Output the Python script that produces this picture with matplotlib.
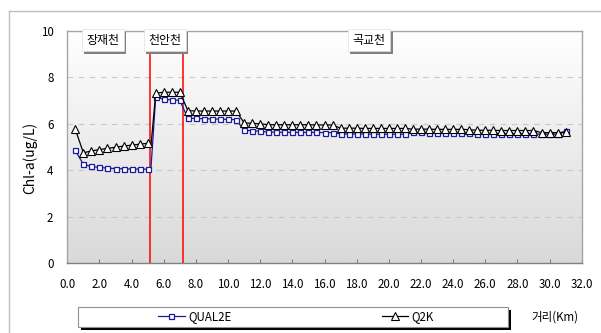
import numpy as np
import matplotlib.pyplot as plt
import matplotlib.patheffects as pe
from matplotlib.patches import Rectangle
from matplotlib.lines import Line2D
from matplotlib.colors import LinearSegmentedColormap

plt.rcParams['font.family'] = ['Noto Sans CJK KR', 'DejaVu Sans']
plt.rcParams['font.size'] = 8

# distance along the river (km); 5.2 is an extra point without marker
dist = [0.5, 1.0, 1.5, 2.0, 2.5, 3.0, 3.5, 4.0, 4.5, 5.0, 5.2,
        5.5, 6.0, 6.5, 7.0,
        7.5, 8.0, 8.5, 9.0, 9.5, 10.0, 10.5,
        11.0, 11.5, 12.0,
        12.5, 13.0, 13.5, 14.0, 14.5, 15.0, 15.5, 16.0, 16.5,
        17.0, 17.5, 18.0, 18.5, 19.0, 19.5, 20.0, 20.5, 21.0,
        21.5, 22.0, 22.5, 23.0, 23.5, 24.0, 24.5, 25.0,
        25.5, 26.0, 26.5, 27.0, 27.5, 28.0, 28.5, 29.0,
        29.5, 30.0, 30.5, 31.0]

qual2e = [4.85, 4.25, 4.16, 4.12, 4.09, 4.07, 4.06, 4.05, 4.05, 4.04, 4.04,
          7.15, 7.06, 7.03, 7.01,
          6.24, 6.23, 6.22, 6.21, 6.20, 6.19, 6.18,
          5.72, 5.70, 5.68,
          5.64, 5.64, 5.63, 5.63, 5.63, 5.63, 5.63, 5.62, 5.62,
          5.56, 5.56, 5.56, 5.56, 5.55, 5.55, 5.55, 5.55, 5.55,
          5.63, 5.63, 5.62, 5.62, 5.62, 5.62, 5.61, 5.61,
          5.58, 5.58, 5.58, 5.58, 5.57, 5.57, 5.57, 5.57,
          5.55, 5.55, 5.55, 5.70]

q2k = [5.76, 4.75, 4.83, 4.89, 4.94, 4.99, 5.04, 5.08, 5.12, 5.16, 5.02,
       7.32, 7.36, 7.36, 7.36,
       6.57, 6.55, 6.55, 6.55, 6.55, 6.55, 6.55,
       6.04, 6.02, 6.00,
       5.96, 5.96, 5.96, 5.96, 5.96, 5.96, 5.95, 5.95, 5.95,
       5.81, 5.81, 5.81, 5.80, 5.80, 5.80, 5.80, 5.80, 5.80,
       5.77, 5.77, 5.77, 5.76, 5.76, 5.76, 5.76, 5.75,
       5.72, 5.72, 5.72, 5.71, 5.71, 5.71, 5.71, 5.71,
       5.62, 5.62, 5.62, 5.63]

no_marker = [10]
mark_idx = [i for i in range(len(dist)) if i not in no_marker]

confluences = [5.17, 7.22]
reach_names = ['장재천', '천안천', '곡교천']
reach_pos = [2.2, 6.05, 18.75]

xticks = [0, 2, 4, 6, 8, 10, 12, 14, 16, 18, 20, 22, 24, 26, 28, 30, 32]
yticks = [0, 2, 4, 6, 8, 10]

W, H = 601, 333
fig = plt.figure(figsize=(W / 100, H / 100), dpi=100)
ax = fig.add_axes([67.3 / W, 70 / H, 514.4 / W, 232 / H])

# plot area gradient
cmap = LinearSegmentedColormap.from_list('bg', ['#d9d9d9', '#ffffff'])
grad = np.linspace(0, 1, 256).reshape(-1, 1)
ax.imshow(grad, extent=[0, 32, 0, 10], aspect='auto', cmap=cmap,
          origin='lower', zorder=0)

ax.set_xlim(0, 32)
ax.set_ylim(0, 10)
ax.set_xticks(xticks)
ax.set_xticklabels([f'{v:.1f}' for v in xticks])
ax.set_yticks(yticks)
ax.grid(axis='y', color='#c8c8c8', linestyle=(0, (5, 5)), lw=0.8, zorder=1)
ax.tick_params(axis='x', direction='in', length=3, color='#808080', pad=11,
               labelsize=8.3)
ax.tick_params(axis='y', length=0, pad=10, labelsize=8.3)
for s in ax.spines.values():
    s.set_color('#a6a6a6')
    s.set_linewidth(1)
ax.spines['bottom'].set_color('#808080')

for c in confluences:
    ax.axvline(c, color='red', lw=1.1, zorder=2)

l1, = ax.plot(dist, qual2e, color='#1a1a9c', lw=0.9, marker='s', ms=3.6,
              mfc='white', mec='#1a1a9c', mew=0.9, markevery=mark_idx,
              zorder=3, label='QUAL2E')
l2, = ax.plot(dist, q2k, color='black', lw=0.9, marker='^', ms=5.5,
              mfc='white', mec='black', mew=0.8, markevery=mark_idx,
              zorder=4, label='Q2K')

for name, xp in zip(reach_names, reach_pos):
    t = ax.text(xp, 9.6, name, ha='center', va='center', fontsize=8.6,
                zorder=6,
                bbox=dict(boxstyle='square,pad=0.38', fc='white',
                          ec='#e0e0e0', lw=0.5))
    t.get_bbox_patch().set_path_effects(
        [pe.withSimplePatchShadow(offset=(2, -2), shadow_rgbFace='#808080',
                                  alpha=1)])

fig.text(30 / W, 1 - 158 / H, 'Chl-a(ug/L)', rotation=90, ha='center',
         va='center', fontsize=10)

# outer chart border
fig.add_artist(Line2D([8.5 / W, 8.5 / W], [0, 1 - 10.7 / H],
                      transform=fig.transFigure, color='#c0c0c0', lw=1))
fig.add_artist(Line2D([8.5 / W, 1], [1 - 10.7 / H, 1 - 10.7 / H],
                      transform=fig.transFigure, color='#c0c0c0', lw=1))

# legend box with shadow
box = Rectangle((78 / W, 6 / H), 430 / W, 20 / H, transform=fig.transFigure,
                fc='white', ec='#909090', lw=0.8, zorder=1)
box.set_path_effects([pe.withSimplePatchShadow(offset=(2, -2),
                                               shadow_rgbFace='black',
                                               alpha=1)])
fig.add_artist(box)
fig.legend(handles=[l1, l2], labels=['QUAL2E', 'Q2K'], loc='center', ncol=2,
           mode='expand', bbox_to_anchor=(158 / W, 6 / H, 276 / W, 20 / H),
           frameon=False, handlelength=2.3, handletextpad=0.3,
           borderaxespad=0, borderpad=0, fontsize=8.3)

fig.text(555 / W, 1 - 317 / H, '거리(Km)', ha='center', va='center', fontsize=8.3)

fig.savefig('out.png', dpi=100)
